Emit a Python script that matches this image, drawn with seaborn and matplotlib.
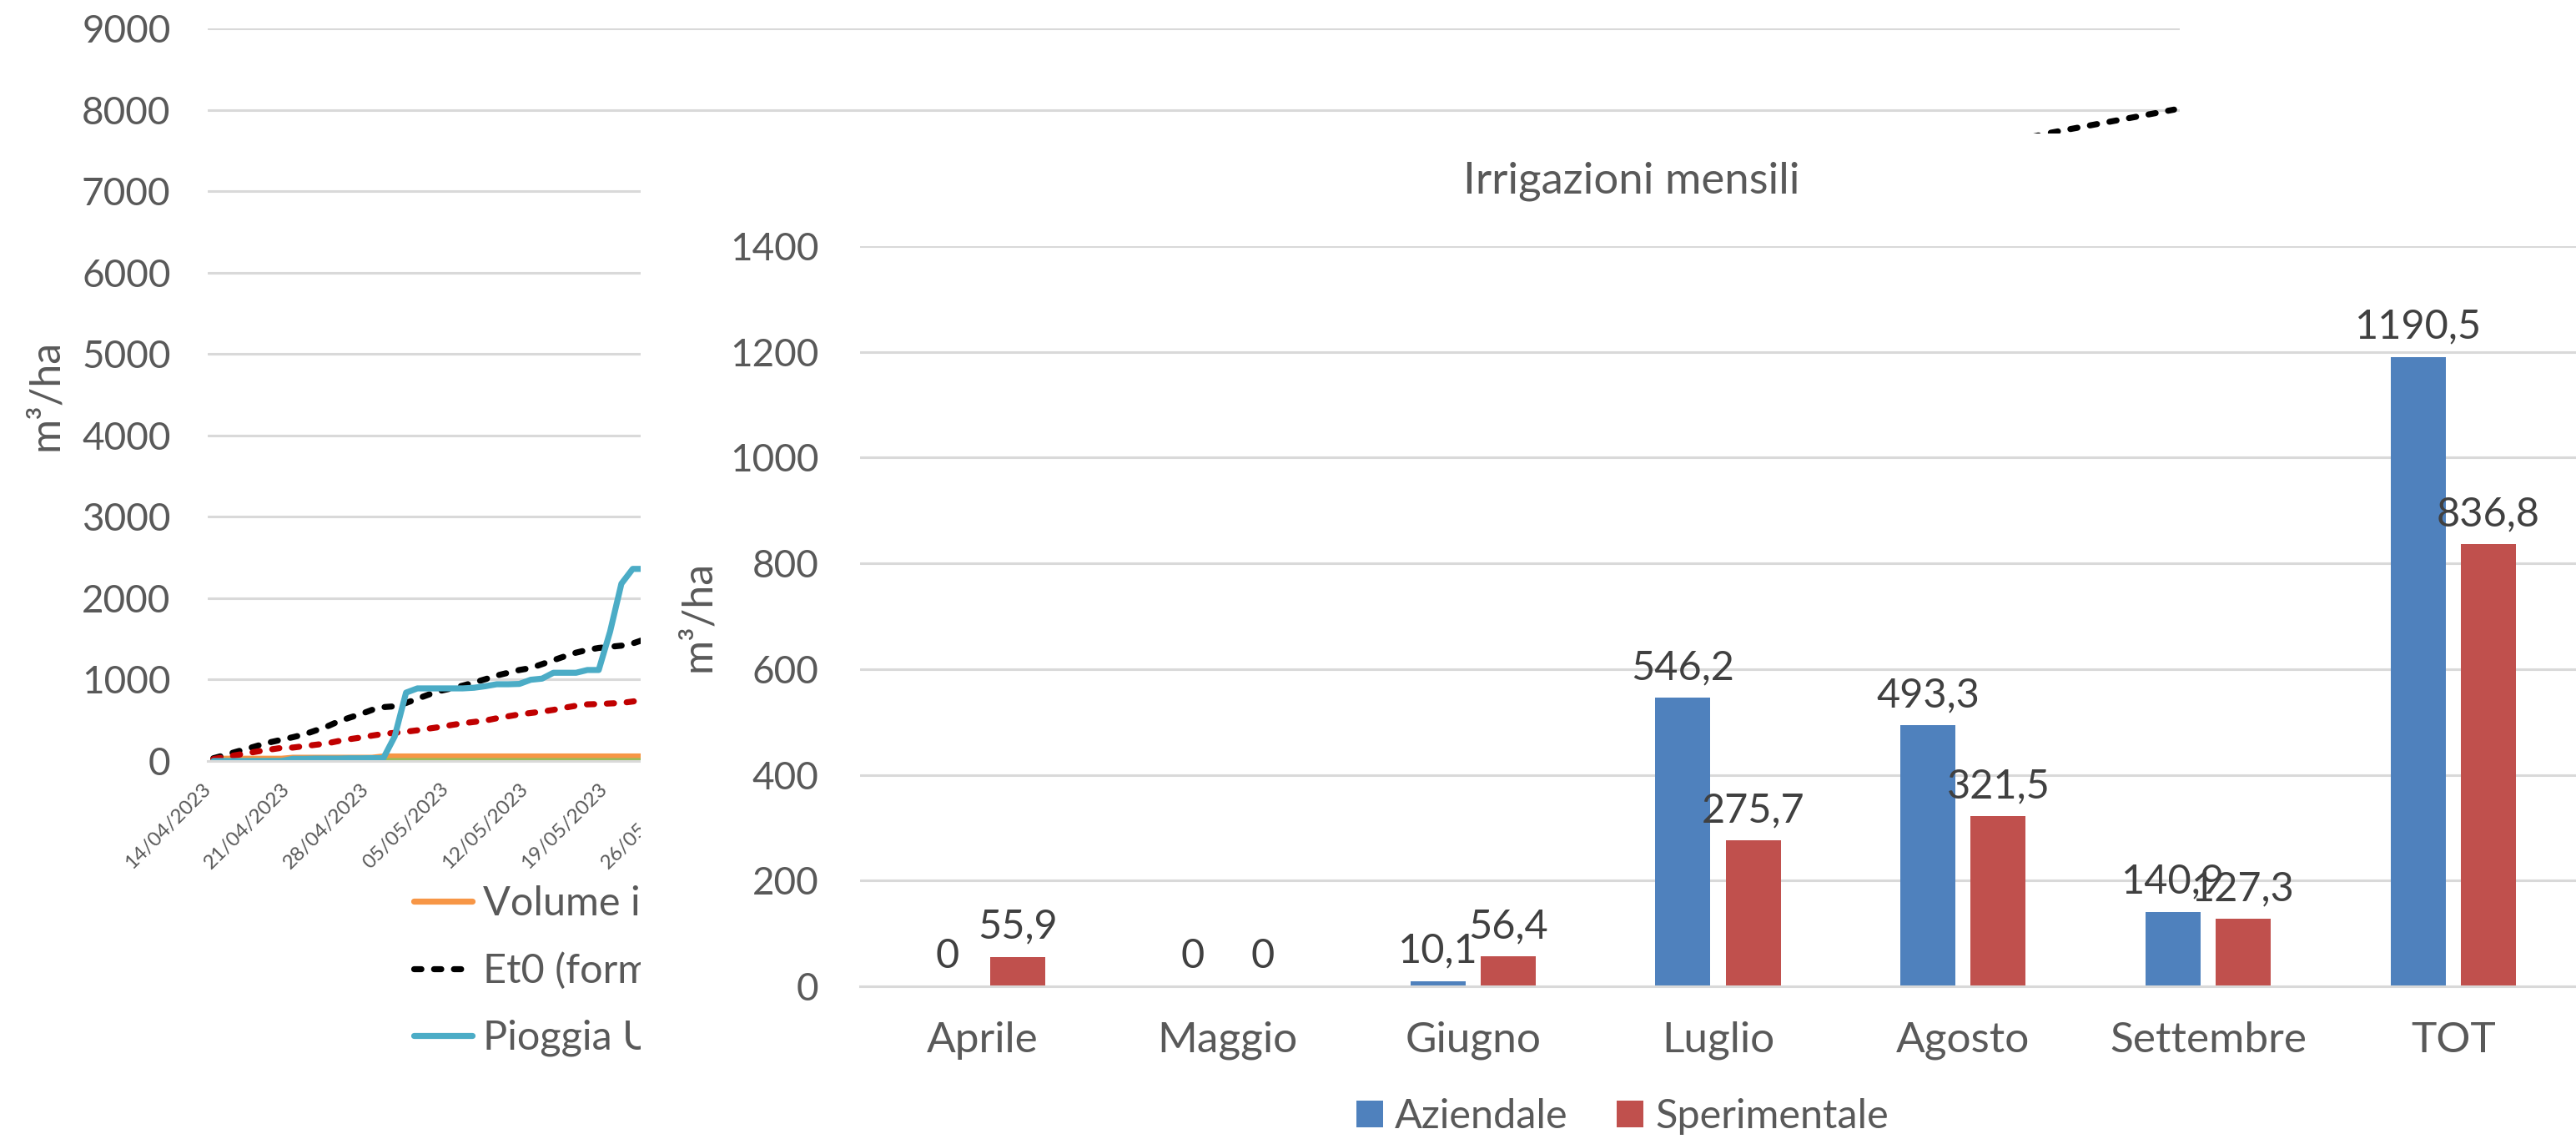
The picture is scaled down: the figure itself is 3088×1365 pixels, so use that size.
import numpy as np
import pandas as pd
import matplotlib
matplotlib.use("Agg")
import matplotlib.pyplot as plt
import matplotlib.dates as mdates
from matplotlib.patches import Patch, Rectangle
from matplotlib.lines import Line2D
import seaborn as sns

sns.set_theme(style="white")
plt.rcParams["font.family"] = ["Lato", "DejaVu Sans"]

# ---------------- data: background cumulative chart ----------------
visible_dates = list(pd.date_range("2023-04-14", "2023-05-22", freq="D"))
later_dates = list(pd.to_datetime(["2023-05-31", "2023-06-30", "2023-07-31", "2023-08-31",
                                   "2023-09-23", "2023-09-27", "2023-10-01", "2023-10-04"]))
bg_dates = visible_dates + later_dates

vol_sper = [28] * 7 + [40] * 8 + [55.9] * 24 + [55.9, 112.3, 388.0, 709.5, 836.8, 836.8, 836.8, 836.8]
vol_azi = [0] * 39 + [0, 10.1, 556.3, 1049.6, 1190.5, 1190.5, 1190.5, 1190.5]
et0 = [34, 72, 113, 151, 192, 230, 261, 292, 326, 374, 422, 484, 532, 576, 628, 662, 672, 713,
       765, 816, 861, 892, 926, 964, 1005, 1050, 1084, 1118, 1142, 1190, 1238, 1286, 1331, 1365,
       1389, 1403, 1417, 1444, 1492,
       1750, 3500, 5500, 7000, 7715, 7819, 7923, 8002]
etc = [24, 48, 72, 96, 120, 141, 161, 165, 182, 199, 216, 244, 268, 288, 312, 333, 346, 360,
       377, 398, 418, 442, 463, 480, 497, 525, 549, 573, 590, 607, 628, 655, 679, 696, 700,
       707, 713, 731, 755,
       850, 1800, 2900, 3700, 4100, 4150, 4200, 4250]
pioggia = [0, 0, 0, 0, 0, 0, 0, 27, 27, 30, 30, 30, 33, 33, 35, 35, 302, 840, 892, 892, 892, 892,
           892, 900, 919, 943, 943, 947, 998, 1012, 1084, 1084, 1084, 1118, 1118, 1588, 2178,
           2360, 2360,
           2450, 2800, 3000, 3300, 3500, 3520, 3550, 3560]

# legend entries as far as they are readable (the rest is hidden behind the bar chart)
bg_legend_labels = ["Volume i", "Et0 (form", "Pioggia U"]
bg_yticks = list(range(0, 9001, 1000))

# ---------------- data: monthly bars ----------------
months = ["Aprile", "Maggio", "Giugno", "Luglio", "Agosto", "Settembre", "TOT"]
aziendale = [0, 0, 10.1, 546.2, 493.3, 140.9, 1190.5]
sperimentale = [55.9, 0, 56.4, 275.7, 321.5, 127.3, 836.8]
series_names = ["Aziendale", "Sperimentale"]
bar_yticks = list(range(0, 1401, 200))

# ---------------- figure ----------------
W, H = 3088, 1365
DPI = 200
fig = plt.figure(figsize=(W / DPI, H / DPI), dpi=DPI)
fig.patch.set_facecolor("white")

def fx(px):
    return px / W

def fy(py):
    return 1 - py / H

TXT = "#595959"
GRID = "#D9D9D9"
LW = 2.6
BOX_X, BOX_Y = 768, 160   # top-left corner of the overlaid bar chart

# background axes
bl, br, bt, bb = 249, 2613, 34, 912
ax1 = fig.add_axes([fx(bl), fy(bb), fx(br - bl), (bb - bt) / H], zorder=1)
ax1.set_facecolor("white")

dash = (0, (1.2, 2.1))
styles = [
    (vol_sper, "#F79646", "-"),
    (vol_azi, "#9BBB59", "-"),
    (et0, "black", dash),
    (etc, "#C00000", dash),
    (pioggia, "#4BACC6", "-"),
]
dates_s = pd.Series(bg_dates)
for vals, col, ls in styles:
    sns.lineplot(x=dates_s, y=vals, ax=ax1, color=col, linewidth=LW, linestyle=ls,
                 dash_capstyle="round", solid_capstyle="round", legend=False,
                 errorbar=None, sort=True)

d0 = mdates.date2num(bg_dates[0])
d1 = mdates.date2num(bg_dates[-1])
ax1.set_xlim(d0 - 0.5, d1 + 0.5)
ax1.set_ylim(0, 9000)
ax1.set_yticks(bg_yticks)
ax1.set_yticklabels([str(v) for v in bg_yticks])
tick_dates = pd.date_range(bg_dates[0], bg_dates[-1], freq="7D")
ax1.set_xticks([mdates.date2num(d) - 0.5 for d in tick_dates])
ax1.set_xticklabels([d.strftime("%d/%m/%Y") for d in tick_dates], rotation=45,
                    ha="right", va="center", rotation_mode="anchor")
ax1.tick_params(axis="y", length=0, pad=16, labelsize=16.5, labelcolor=TXT)
ax1.tick_params(axis="x", length=5, width=1, color=GRID, direction="out", pad=6,
                labelsize=8.8, labelcolor=TXT)
ax1.yaxis.grid(True, color=GRID, linewidth=1.1)
ax1.set_axisbelow(True)
for s in ["top", "right", "left"]:
    ax1.spines[s].set_visible(False)
ax1.spines["bottom"].set_color(GRID)
ax1.spines["bottom"].set_linewidth(1.1)
ax1.set_xlabel("")
ax1.set_ylabel("")
fig.text(fx(55), fy(473), "m³/ha", rotation=90, ha="center", va="center",
         fontsize=18, color=TXT, zorder=1)

# region of the background chart left visible by the overlay
visible_clip = Rectangle((0, 0), fx(BOX_X), 1, transform=fig.transFigure,
                         facecolor="none", edgecolor="none")
fig.add_artist(visible_clip)
visible_clip.set_visible(False)

h = [Line2D([], [], color=c, lw=LW, linestyle=ls, dash_capstyle="round",
            solid_capstyle="round") for (_, c, ls) in styles]
leg1 = ax1.legend([h[0], h[2], h[4]], bg_legend_labels, ncol=1,
                  loc="upper left", bbox_to_anchor=(fx(496), fy(1061)),
                  bbox_transform=fig.transFigure, frameon=False, fontsize=17.5,
                  handlelength=1.45, handletextpad=0.25, labelspacing=0.74,
                  borderpad=0, borderaxespad=0, labelcolor=TXT)
for t in leg1.get_texts():
    t.set_clip_path(visible_clip)
for t in ax1.get_xticklabels():
    t.set_clip_path(visible_clip)

# foreground chart area (covers background)
fig.add_artist(Rectangle((fx(BOX_X), 0), 1 - fx(BOX_X), fy(BOX_Y), transform=fig.transFigure,
                         facecolor="white", edgecolor="none", zorder=2))

fl, fr, ft, fb = 1031, 3088, 295, 1182
ax2 = fig.add_axes([fx(fl), fy(fb), fx(fr - fl), (fb - ft) / H], zorder=3)
ax2.set_facecolor("white")

df_bar = pd.DataFrame({
    "Mese": months * 2,
    "Valore": aziendale + sperimentale,
    "Serie": [series_names[0]] * len(months) + [series_names[1]] * len(months),
})
colors = ["#4F81BD", "#C0504D"]
sns.barplot(data=df_bar, x="Mese", y="Valore", hue="Serie", hue_order=series_names,
            order=months, palette=colors, saturation=1, width=0.572, gap=0.215,
            linewidth=0, errorbar=None, legend=False, ax=ax2)

def fmt(v):
    return str(int(v)) if float(v).is_integer() else f"{v:.1f}".replace(".", ",")

for cont, vals in zip(ax2.containers, [aziendale, sperimentale]):
    ax2.bar_label(cont, labels=[fmt(v) for v in vals], padding=5, fontsize=17.5,
                  color="#404040")

ax2.set_xlim(-0.5, len(months) - 0.5)
ax2.set_ylim(0, 1400)
ax2.set_yticks(bar_yticks)
ax2.set_yticklabels([str(v) for v in bar_yticks])
ax2.yaxis.grid(True, color=GRID, linewidth=1.1)
ax2.set_axisbelow(True)
for s in ["top", "right", "left"]:
    ax2.spines[s].set_visible(False)
ax2.spines["bottom"].set_color(GRID)
ax2.spines["bottom"].set_linewidth(1.1)
ax2.tick_params(axis="y", length=0, pad=17.8, labelsize=16.5, labelcolor=TXT)
ax2.tick_params(axis="x", length=0, pad=15, labelsize=18.5, labelcolor=TXT)
ax2.set_xlabel("")
ax2.set_ylabel("")

fig.text(fx(837), fy(738), "m³/ha", rotation=90, ha="center", va="center",
         fontsize=18, color=TXT, zorder=10)
fig.text(fx(1956), fy(217), "Irrigazioni mensili", ha="center", va="center",
         fontsize=19, color=TXT, zorder=10)

leg = fig.legend([Patch(facecolor=c, edgecolor="none") for c in colors], series_names,
                 loc="center", bbox_to_anchor=(fx(1945), fy(1338)), ncol=2, frameon=False,
                 fontsize=17.5, handlelength=0.65, handleheight=0.65, handletextpad=0.3,
                 columnspacing=1.2, labelcolor=TXT, borderpad=0)
leg.set_zorder(10)

fig.savefig("out.png", dpi=DPI, facecolor="white")
